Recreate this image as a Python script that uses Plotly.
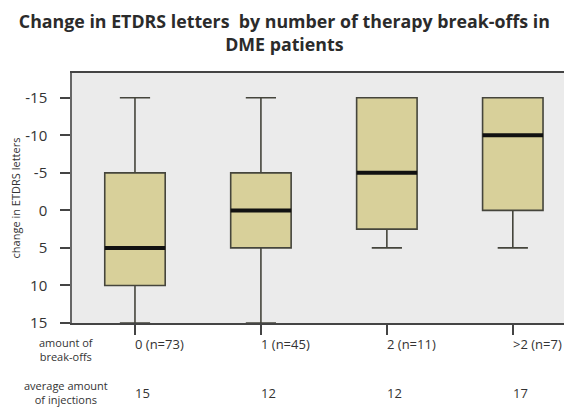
import plotly.graph_objects as go

# data (change in ETDRS letters; axis is reversed)
groups = ['0 (n=73)', '1 (n=45)', '2 (n=11)', '>2 (n=7)']
injections = ['15', '12', '12', '17']
upper_whisker = [-15, -15, -15, -15]
box_low = [-5, -5, -15, -15]
medians = [5, 0, -5, -10]
box_high = [10, 5, 2.5, 0]
lower_whisker = [15, 15, 5, 5]
y_ticks = [-15, -10, -5, 0, 5, 10, 15]
y_tick_text = ['-15', '-10', '-5', '0', '5', '10', '15']

pos = list(range(len(groups)))
box_w = 0.48
fill = '#d8d09a'
edge = '#45453c'
font = 'Open Sans, Noto Sans, sans-serif'

fig = go.Figure()

fig.add_trace(go.Box(
    x=pos,
    q1=box_low,
    median=medians,
    q3=box_high,
    lowerfence=upper_whisker,
    upperfence=lower_whisker,
    width=box_w,
    whiskerwidth=0.5,
    fillcolor=fill,
    line=dict(color=edge, width=1.6),
    boxpoints=False,
    showlegend=False,
))

# thick median bars
mx, my = [], []
for p, m in zip(pos, medians):
    mx += [p - box_w / 2, p + box_w / 2, None]
    my += [m, m, None]
fig.add_trace(go.Scatter(
    x=mx, y=my, mode='lines',
    line=dict(color='#111111', width=4),
    showlegend=False, hoverinfo='skip',
))

# category labels, left-aligned at the ticks
for p, g, n in zip(pos, groups, injections):
    fig.add_annotation(x=p, y=0, xref='x', yref='paper', text=g,
                       showarrow=False, xanchor='left', yanchor='middle',
                       xshift=-2, yshift=-21, font=dict(size=13, color='#333'))
    fig.add_annotation(x=p, y=0, xref='x', yref='paper', text=n,
                       showarrow=False, xanchor='left', yanchor='middle',
                       xshift=-2, yshift=-70, font=dict(size=13, color='#333'))

fig.add_annotation(x=0, y=0, xref='paper', yref='paper',
                   text='amount of<br>break-offs', showarrow=False,
                   xanchor='center', yanchor='middle', xshift=-6, yshift=-26,
                   font=dict(size=11, color='#333'))
fig.add_annotation(x=0, y=0, xref='paper', yref='paper',
                   text='average amount<br>of injections', showarrow=False,
                   xanchor='center', yanchor='middle', xshift=-6, yshift=-69,
                   font=dict(size=11, color='#333'))

# the page body adds an 8px margin, so the figure is 8px smaller
fig.update_layout(
    width=564, height=406,
    margin=dict(l=64, r=0, t=65, b=91, autoexpand=False),
    paper_bgcolor='white',
    plot_bgcolor='#ebebeb',
    font=dict(family=font, color='#333'),
    title=dict(
        text='<b>Change in ETDRS letters  by number of therapy break-offs in<br>DME patients</b>',
        x=0.49, xanchor='center', xref='container',
        y=0.95, yanchor='middle', yref='container',
        font=dict(size=17.8, color='#2b2b2b'),
    ),
)

fig.update_xaxes(
    range=[-0.5, 3.47],
    tickvals=pos, showticklabels=False,
    ticks='outside', ticklen=10, tickwidth=1.6, tickcolor='#444',
    showline=True, linecolor='#444', linewidth=2, mirror=True,
    showgrid=False, zeroline=False, automargin=False,
)
fig.update_yaxes(
    range=[15, -18.3],
    tickvals=y_ticks, ticktext=y_tick_text,
    ticks='outside', ticklen=10, tickwidth=1.6, tickcolor='#444',
    ticklabelstandoff=10,
    tickfont=dict(size=15, color='#333'),
    showline=True, linecolor='#666', linewidth=1.5,
    showgrid=False, zeroline=False, automargin=False,
    title=dict(text='change in ETDRS letters', standoff=8,
               font=dict(size=11, color='#333')),
)

fig.write_html('out.html')
